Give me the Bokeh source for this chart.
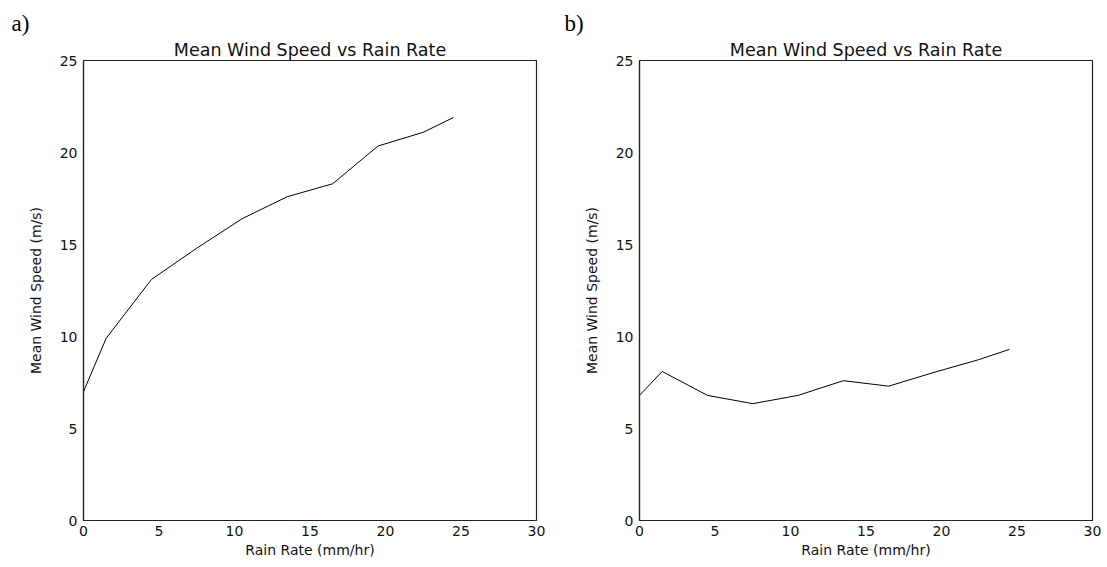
from bokeh.plotting import figure
from bokeh.layouts import row
from bokeh.models import Title, FixedTicker, Range1d
from bokeh.embed import file_html
from bokeh.resources import INLINE

rain_rate_a = [0, 1.5, 4.5, 7.5, 10.5, 13.5, 16.5, 19.5, 22.5, 24.5]
wind_a = [7.0, 9.9, 13.1, 14.8, 16.4, 17.6, 18.3, 20.35, 21.1, 21.9]

rain_rate_b = [0, 1.5, 4.5, 7.5, 10.5, 13.5, 16.5, 19.5, 22.5, 24.5]
wind_b = [6.8, 8.1, 6.8, 6.35, 6.8, 7.6, 7.3, 8.05, 8.75, 9.3]

x_ticks = [0, 5, 10, 15, 20, 25, 30]
y_ticks = [0, 5, 10, 15, 20, 25]
title_text = "Mean Wind Speed vs Rain Rate"
x_label = "Rain Rate (mm/hr)"
y_label = "Mean Wind Speed (m/s)"
panel_tags = ["a)", "b)"]

FONT = "DejaVu Sans"


def make_panel(xs, ys, tag, left_border, right_border):
    p = figure(
        frame_width=453, frame_height=460,
        min_border_left=left_border, min_border_right=right_border,
        min_border_top=60, min_border_bottom=47,
        x_range=Range1d(0, 30), y_range=Range1d(0, 25),
        output_backend="svg", toolbar_location=None,
        background_fill_color="white", border_fill_color="white",
    )
    p.grid.visible = False
    p.outline_line_color = "#222222"
    p.outline_line_width = 1.2

    # panel tag (outermost)
    p.title.text = tag
    p.title.align = "left"
    p.title.offset = -(left_border - 11)
    p.title.text_font = "Liberation Serif"
    p.title.text_font_size = "23px"
    p.title.text_font_style = "normal"
    p.title.text_color = "black"
    p.title.standoff = 3

    # main title (next to the frame)
    p.add_layout(Title(text=title_text, align="center", text_font=FONT,
                       text_font_size="17.5px", text_font_style="normal",
                       text_color="#111111", standoff=1), "above")

    for ax in (p.xaxis[0], p.yaxis[0]):
        ax.major_tick_in = 0
        ax.major_tick_out = 0
        ax.minor_tick_line_color = None
        ax.axis_line_color = "#222222"
        ax.axis_line_width = 1.2
        ax.major_label_text_font = FONT
        ax.major_label_text_font_size = "14px"
        ax.major_label_text_color = "#111111"
        ax.axis_label_text_font = FONT
        ax.axis_label_text_font_size = "14px"
        ax.axis_label_text_font_style = "normal"
        ax.axis_label_text_color = "#111111"

    p.xaxis[0].ticker = FixedTicker(ticks=x_ticks)
    p.yaxis[0].ticker = FixedTicker(ticks=y_ticks)
    p.xaxis[0].axis_label = x_label
    p.yaxis[0].axis_label = y_label
    p.xaxis[0].major_label_standoff = 5
    p.xaxis[0].axis_label_standoff = 3
    p.yaxis[0].major_label_standoff = 6
    p.yaxis[0].axis_label_standoff = 13

    p.line(xs, ys, line_color="black", line_width=1.0)
    return p


pa = make_panel(rain_rate_a, wind_a, panel_tags[0], 83, 17)
pb = make_panel(rain_rate_b, wind_b, panel_tags[1], 86, 15)

layout = row(pa, pb)
open("out.html", "w").write(file_html(layout, INLINE))
